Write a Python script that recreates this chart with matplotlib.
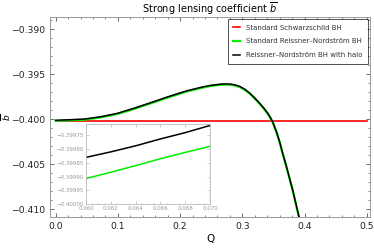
import numpy as np
import matplotlib.pyplot as plt
from matplotlib.ticker import MultipleLocator

plt.rcParams["font.family"] = "DejaVu Sans"
plt.rcParams["mathtext.fontset"] = "dejavusans"

# -----------------------------
# Data
# -----------------------------
q_main = [0.0, 0.045, 0.072, 0.099, 0.125, 0.152, 0.179, 0.197, 0.211, 0.237,
          0.250, 0.264, 0.272, 0.280, 0.288, 0.296, 0.304, 0.312, 0.320, 0.328,
          0.335, 0.341, 0.345, 0.349, 0.355, 0.360, 0.365, 0.371, 0.381,
          0.391, 0.396]
b_halo = [-0.40010, -0.39997, -0.39971, -0.39933, -0.39878, -0.39816, -0.39752,
          -0.39712, -0.39682, -0.39638, -0.39621, -0.39609, -0.39606, -0.39607,
          -0.39616, -0.39634, -0.39665, -0.39708, -0.39762, -0.39822,
          -0.39878, -0.39933, -0.39978, -0.40030, -0.40140, -0.40250, -0.40380,
          -0.40527, -0.40786, -0.41082, -0.41250]
b_rn = [-0.40016, -0.40004, -0.39978, -0.39940, -0.39885, -0.39823, -0.39759,
        -0.39719, -0.39689, -0.39645, -0.39628, -0.39616, -0.39613, -0.39614,
        -0.39623, -0.39641, -0.39672, -0.39715, -0.39769, -0.39829,
        -0.39885, -0.39940, -0.39985, -0.40037, -0.40147, -0.40257, -0.40387,
        -0.40534, -0.40793, -0.41089, -0.41257]
q_schw = [0.0, 0.5]
b_schw = [-0.40017, -0.40017]

q_inset = [0.060, 0.062, 0.064, 0.066, 0.068, 0.070]
b_halo_inset = [-0.399830, -0.399810, -0.399788, -0.399763, -0.399740, -0.399714]
b_rn_inset = [-0.399907, -0.399884, -0.399860, -0.399835, -0.399812, -0.399790]

labels = ["Standard Schwarzschild BH", "Standard Reissner\u2013Nordstr\u00f6m BH",
          "Reissner\u2013Nordstr\u00f6m BH with halo"]

# -----------------------------
# Figure
# -----------------------------
fig = plt.figure(figsize=(3.74, 2.48), dpi=100)
ax = fig.add_axes([0.134, 0.125, 0.855, 0.806])

ax.plot(q_schw, b_schw, color="#ff0000", lw=1.2, label=labels[0])
ax.plot(q_main, b_rn, color="#00ee00", lw=1.6, label=labels[1],
        solid_joinstyle="round")
ax.plot(q_main, b_halo, color="black", lw=1.1, label=labels[2],
        solid_joinstyle="round")

ax.set_xlim(-0.009, 0.505)
ax.set_ylim(-0.41085, -0.38863)
ax.xaxis.set_major_locator(MultipleLocator(0.1))
ax.xaxis.set_minor_locator(MultipleLocator(0.02))
ax.yaxis.set_major_locator(MultipleLocator(0.005))
ax.yaxis.set_minor_locator(MultipleLocator(0.001))
ax.xaxis.set_major_formatter(plt.FuncFormatter(lambda v, p: f"{v:.1f}"))
ax.yaxis.set_major_formatter(plt.FuncFormatter(lambda v, p: f"\u2212{abs(v):.3f}"))
ax.tick_params(which="both", direction="in", top=True, right=True,
               labelsize=6.7, colors="#555555", labelcolor="#222222")
ax.tick_params(which="major", length=3, width=0.6)
ax.tick_params(which="minor", length=1.5, width=0.5)
for sp in ax.spines.values():
    sp.set_color("#999999")
    sp.set_linewidth(0.7)

ax.set_title(r"Strong lensing coefficient $\overline{b}$", fontsize=7, pad=2.5)
ax.set_xlabel("Q", fontsize=7.5, labelpad=2)
ax.set_ylabel(r"$\overline{b}$", fontsize=6.5, rotation=90)
ax.yaxis.set_label_coords(-0.117, 0.5)

leg = ax.legend(loc="upper right", fontsize=5, frameon=True, fancybox=False,
                handlelength=1.0, borderpad=0.8, labelspacing=1.1,
                handletextpad=0.8, borderaxespad=0.3)
leg.get_frame().set_edgecolor("black")
leg.get_frame().set_linewidth(0.6)
for t in leg.get_texts():
    t.set_color("#333333")

# -----------------------------
# Inset
# -----------------------------
axi = fig.add_axes([0.230, 0.177, 0.3316, 0.3226])
axi.plot(q_inset, b_rn_inset, color="#00ee00", lw=1.1)
axi.plot(q_inset, b_halo_inset, color="black", lw=1.1)
axi.set_xlim(0.060, 0.070)
axi.set_ylim(-0.40000, -0.399709)
axi.xaxis.set_major_locator(MultipleLocator(0.002))
axi.xaxis.set_minor_locator(MultipleLocator(0.0005))
axi.yaxis.set_major_locator(MultipleLocator(0.00005))
axi.yaxis.set_minor_locator(MultipleLocator(0.00001))
axi.xaxis.set_major_formatter(plt.FuncFormatter(lambda v, p: f"{v:.3f}"))
axi.yaxis.set_major_formatter(plt.FuncFormatter(lambda v, p: f"\u2212{abs(v):.5f}"))
axi.tick_params(which="both", direction="in", top=True, right=True,
                labelsize=4, colors="#aaaaaa", labelcolor="#999999", pad=1.5)
axi.tick_params(which="major", length=2, width=0.4)
axi.tick_params(which="minor", length=1, width=0.3)
for sp in axi.spines.values():
    sp.set_color("#bbbbbb")
    sp.set_linewidth(0.6)

plt.savefig("out.png", dpi=100)
